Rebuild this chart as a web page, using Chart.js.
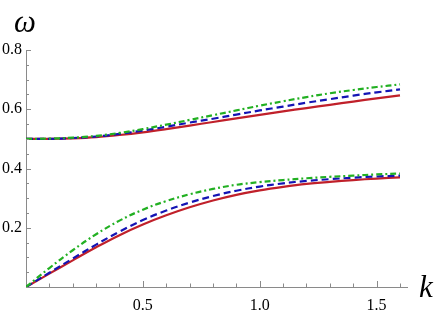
<!DOCTYPE html>
<html>
<head>
<meta charset="utf-8">
<script src="https://cdn.jsdelivr.net/npm/chart.js@4.4.1/dist/chart.umd.min.js"></script>
<style>
  html, body { margin: 0; padding: 0; background: #fff; }
</style>
</head>
<body>
<canvas id="grafico" width="436" height="311"></canvas>
<script>
// Datos
const kValores = [0, 0.1, 0.2, 0.3, 0.4, 0.5, 0.6, 0.7, 0.8, 0.9, 1.0, 1.1, 1.2, 1.3, 1.4, 1.5, 1.6];

// rama inferior
const rojoBajo  = [0, 0.045, 0.090, 0.134, 0.175, 0.211, 0.242, 0.269, 0.292, 0.311, 0.326, 0.338, 0.348, 0.355, 0.361, 0.366, 0.370];
const azulBajo  = [0, 0.048, 0.096, 0.143, 0.187, 0.226, 0.258, 0.285, 0.307, 0.325, 0.339, 0.350, 0.358, 0.364, 0.369, 0.373, 0.376];
const verdeBajo = [0, 0.064, 0.124, 0.178, 0.224, 0.261, 0.290, 0.313, 0.331, 0.345, 0.354, 0.361, 0.367, 0.372, 0.376, 0.380, 0.383];

// rama superior
const rojoAlto  = [0.500, 0.500, 0.502, 0.506, 0.513, 0.522, 0.533, 0.545, 0.557, 0.569, 0.581, 0.593, 0.604, 0.615, 0.626, 0.637, 0.647];
const azulAlto  = [0.500, 0.500, 0.503, 0.508, 0.517, 0.528, 0.541, 0.555, 0.568, 0.582, 0.596, 0.609, 0.622, 0.634, 0.646, 0.657, 0.667];
const verdeAlto = [0.500, 0.501, 0.504, 0.510, 0.520, 0.533, 0.548, 0.564, 0.580, 0.596, 0.612, 0.627, 0.641, 0.654, 0.665, 0.675, 0.684];

const ticksX = [0.5, 1.0, 1.5];
const etiquetasX = ['0.5', '1.0', '1.5'];
const ticksY = [0.2, 0.4, 0.6, 0.8];
const etiquetasY = ['0.2', '0.4', '0.6', '0.8'];

const ROJO = '#c0202a';
const AZUL = '#1414b4';
const VERDE = '#22b022';
const GRIS = '#8a8a8a';

function puntos(valores) {
    return kValores.map((k, i) => ({ x: k, y: valores[i] }));
}

function serie(valores, color, dash, orden) {
    return {
        data: puntos(valores),
        borderColor: color,
        borderWidth: 2.2,
        borderDash: dash,
        pointRadius: 0,
        fill: false,
        tension: 0.4,
        order: orden
    };
}

// marcas hacia adentro y símbolos de los ejes
const ejesPlugin = {
    id: 'ejes',
    afterDraw(chart) {
        const ctx = chart.ctx;
        const sx = chart.scales.x;
        const sy = chart.scales.y;
        const area = chart.chartArea;
        ctx.save();
        ctx.strokeStyle = GRIS;
        ctx.lineWidth = 1;
        ctx.beginPath();
        for (let i = 1; i <= 16; i++) {
            const px = Math.round(sx.getPixelForValue(i / 10)) + 0.5;
            const largo = (i % 5 === 0) ? 6 : 3.5;
            ctx.moveTo(px, area.bottom);
            ctx.lineTo(px, area.bottom - largo);
        }
        for (let i = 1; i <= 16; i++) {
            const py = Math.round(sy.getPixelForValue(i * 0.05)) + 0.5;
            const largo = (i % 4 === 0) ? 5 : 3;
            ctx.moveTo(area.left, py);
            ctx.lineTo(area.left + largo, py);
        }
        ctx.stroke();

        ctx.fillStyle = '#000';
        ctx.font = 'italic 31px "Liberation Serif"';
        ctx.textBaseline = 'alphabetic';
        ctx.fillText('ω', 14, 32);
        ctx.fillText('k', 419, 297);
        ctx.restore();
    }
};

const fuenteTicks = { family: '"Liberation Serif"', size: 16 };

new Chart(document.getElementById('grafico').getContext('2d'), {
    type: 'line',
    data: {
        datasets: [
            serie(rojoBajo, ROJO, [], 3),
            serie(azulBajo, AZUL, [7, 4], 2),
            serie(verdeBajo, VERDE, [6, 3, 2, 3], 1),
            serie(rojoAlto, ROJO, [], 3),
            serie(azulAlto, AZUL, [7, 4], 2),
            serie(verdeAlto, VERDE, [6, 3, 2, 3], 1)
        ]
    },
    options: {
        responsive: false,
        animation: false,
        devicePixelRatio: 1,
        layout: { padding: { top: 50, right: 29, left: 0, bottom: 0 } },
        plugins: { legend: { display: false }, tooltip: { enabled: false } },
        scales: {
            x: {
                type: 'linear',
                min: 0,
                max: 1.63,
                grid: { display: false, drawTicks: false },
                border: { display: true, color: GRIS, width: 1 },
                afterBuildTicks: (eje) => { eje.ticks = ticksX.map(v => ({ value: v })); },
                afterFit: (eje) => { eje.height = 24; },
                ticks: {
                    color: '#000',
                    font: fuenteTicks,
                    padding: 9,
                    maxRotation: 0,
                    callback: (v) => etiquetasX[ticksX.indexOf(v)]
                }
            },
            y: {
                type: 'linear',
                min: 0,
                max: 0.8,
                grid: { display: false, drawTicks: false },
                border: { display: true, color: GRIS, width: 1 },
                afterBuildTicks: (eje) => { eje.ticks = ticksY.map(v => ({ value: v })); },
                afterFit: (eje) => { eje.width = 26; },
                ticks: {
                    color: '#000',
                    font: fuenteTicks,
                    padding: 4,
                    callback: (v) => etiquetasY[ticksY.indexOf(v)]
                }
            }
        }
    },
    plugins: [ejesPlugin]
});
</script>
</body>
</html>
